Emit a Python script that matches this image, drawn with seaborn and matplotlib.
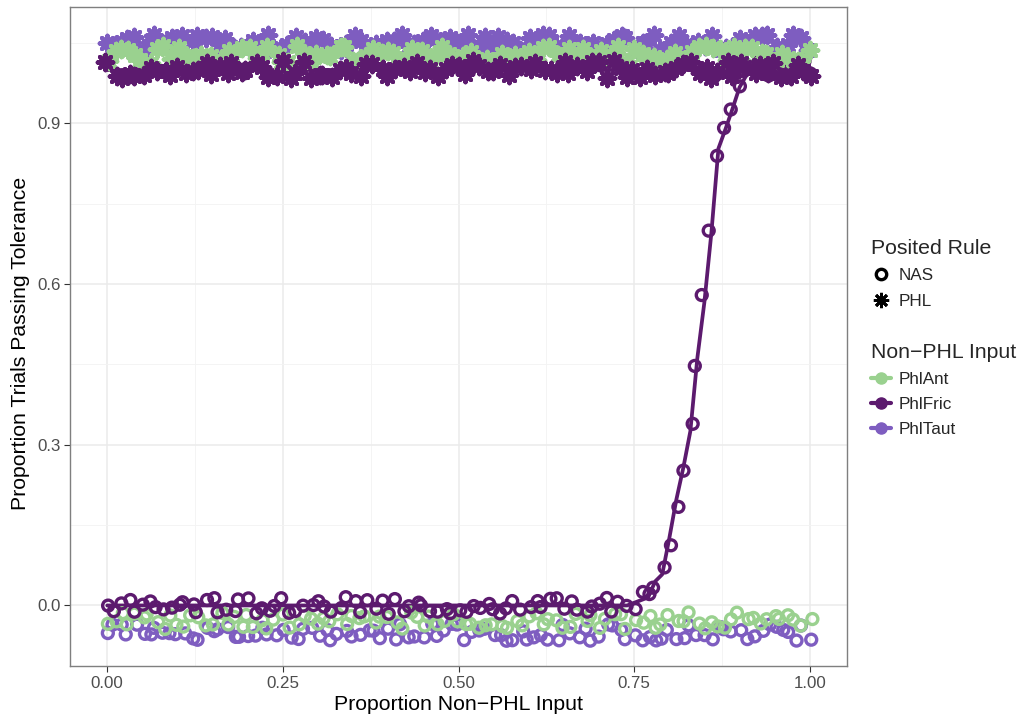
import matplotlib
matplotlib.use("Agg")
import matplotlib.pyplot as plt
from matplotlib.lines import Line2D
from matplotlib.ticker import MultipleLocator
import numpy as np
import pandas as pd
import seaborn as sns

# x grid: proportion of non-PHL input in the training data
x_prop = [round(i / 100, 2) for i in range(101)]

input_levels = ["PhlAnt", "PhlFric", "PhlTaut"]
rule_levels = ["NAS", "PHL"]
palette = {"PhlAnt": "#9AD18F", "PhlFric": "#5C1A6E", "PhlTaut": "#7E5DC0"}

# proportion of trials passing tolerance
nas_phlant = [0.0] * 101
nas_phlfric = [0.0] * 75 + [
    0.005, 0.010, 0.015, 0.045, 0.058, 0.125, 0.197, 0.257, 0.325,
    0.462, 0.566, 0.696, 0.853, 0.889, 0.927, 0.967, 0.990,
] + [1.0] * 9
nas_phltaut = [0.0] * 101
phl_phlant = [1.0] * 101
phl_phlfric = [1.0] * 101
phl_phltaut = [1.0] * 101

series = {
    ("NAS", "PhlAnt"): nas_phlant,
    ("NAS", "PhlFric"): nas_phlfric,
    ("NAS", "PhlTaut"): nas_phltaut,
    ("PHL", "PhlAnt"): phl_phlant,
    ("PHL", "PhlFric"): phl_phlfric,
    ("PHL", "PhlTaut"): phl_phltaut,
}

frames = []
for (rule, inp), vals in series.items():
    frames.append(pd.DataFrame({"x": x_prop, "y": vals, "rule": rule, "input": inp}))
df = pd.concat(frames, ignore_index=True)

# display only: groups nudged apart + jitter so overlapping points stay visible
nudge = {"PhlAnt": 0.028, "PhlFric": 0.0, "PhlTaut": 0.05}
rng = np.random.default_rng(7)
side = np.where(df["y"] >= 0.5, 1.0, -1.0)
df["xj"] = df["x"] + rng.uniform(-0.004, 0.004, len(df))
df["yj"] = df["y"] + side * df["input"].map(nudge) + rng.uniform(-0.016, 0.016, len(df))

sns.set_theme(style="whitegrid")
plt.rcParams["font.family"] = ["Liberation Sans", "DejaVu Sans"]

fig = plt.figure(figsize=(10.27, 7.21), dpi=100)
ax = fig.add_axes([70 / 1027, 1 - 666 / 721, 777 / 1027, 659 / 721])

# fitted lines (PhlFric only)
for rule in rule_levels:
    sub = df[(df["rule"] == rule) & (df["input"] == "PhlFric")]
    sns.lineplot(data=sub, x="x", y="y", color=palette["PhlFric"], lw=2.7,
                 estimator=None, ax=ax, zorder=2)

draw_order = ["PhlTaut", "PhlAnt", "PhlFric"]
for inp in draw_order:
    sub = df[(df["rule"] == "NAS") & (df["input"] == inp)]
    c = palette[inp]
    sns.scatterplot(data=sub, x="xj", y="yj", marker="o", s=62,
                    facecolor="none", edgecolor=c, linewidth=2.4, ax=ax, zorder=3)
for inp in draw_order:
    sub = df[(df["rule"] == "PHL") & (df["input"] == inp)]
    c = palette[inp]
    sns.scatterplot(data=sub, x="xj", y="yj", marker=(8, 2, 0), s=125,
                    color=c, linewidth=3.0, ax=ax, zorder=3)
    ax.collections[-1].set_capstyle("round")

ax.set_xlim(-0.053, 1.053)
ax.set_ylim(-0.113, 1.117)
ax.set_xticks([0, 0.25, 0.5, 0.75, 1.0])
ax.set_xticklabels(["0.00", "0.25", "0.50", "0.75", "1.00"])
ax.set_yticks([0, 0.3, 0.6, 0.9])
ax.set_yticklabels(["0.0", "0.3", "0.6", "0.9"])
ax.xaxis.set_minor_locator(MultipleLocator(0.125))
ax.yaxis.set_minor_locator(MultipleLocator(0.15))
ax.grid(which="major", color="#EBEBEB", lw=1.1)
ax.grid(which="minor", color="#F3F3F3", lw=0.6)
ax.set_axisbelow(True)
ax.tick_params(which="major", length=4, width=0.8, color="#333333",
               labelsize=12.2, labelcolor="#4D4D4D", pad=3,
               bottom=True, left=True)
ax.tick_params(which="minor", length=0)
for sp in ax.spines.values():
    sp.set_visible(True)
    sp.set_color("#7F7F7F")
    sp.set_linewidth(1.0)

ax.set_xlabel("Proportion Non\u2212PHL Input", fontsize=15.3, color="black", labelpad=3)
ax.set_ylabel("Proportion Trials Passing Tolerance", fontsize=15.3, color="black")
ax.yaxis.set_label_coords(-0.051, 0.49)

# legends
shape_handles = [
    Line2D([], [], ls="none", marker="o", ms=7.5, mfc="none", mec="black", mew=2.4),
    Line2D([], [], ls="none", marker=(8, 2, 0), ms=11, color="black", mew=2.0,
           solid_capstyle="round"),
]
leg1 = ax.legend(shape_handles, rule_levels, title="Posited Rule",
                 loc="upper left", bbox_to_anchor=(871 / 1027, 1 - 239 / 721),
                 bbox_transform=fig.transFigure, frameon=False, fontsize=12.3,
                 title_fontsize=15.3, alignment="left", borderpad=0,
                 borderaxespad=0, handlelength=1.15, handletextpad=0.45,
                 labelspacing=0.6)
ax.add_artist(leg1)

color_handles = [
    Line2D([], [], color=palette[i], lw=3, marker="o", ms=8) for i in input_levels
]
ax.legend(color_handles, input_levels, title="Non\u2212PHL Input",
          loc="upper left", bbox_to_anchor=(871 / 1027, 1 - 343 / 721),
          bbox_transform=fig.transFigure, frameon=False, fontsize=12.3,
          title_fontsize=15.3, alignment="left", borderpad=0,
          borderaxespad=0, handlelength=1.15, handletextpad=0.45,
          labelspacing=0.58)

fig.savefig("out.png", dpi=100)
